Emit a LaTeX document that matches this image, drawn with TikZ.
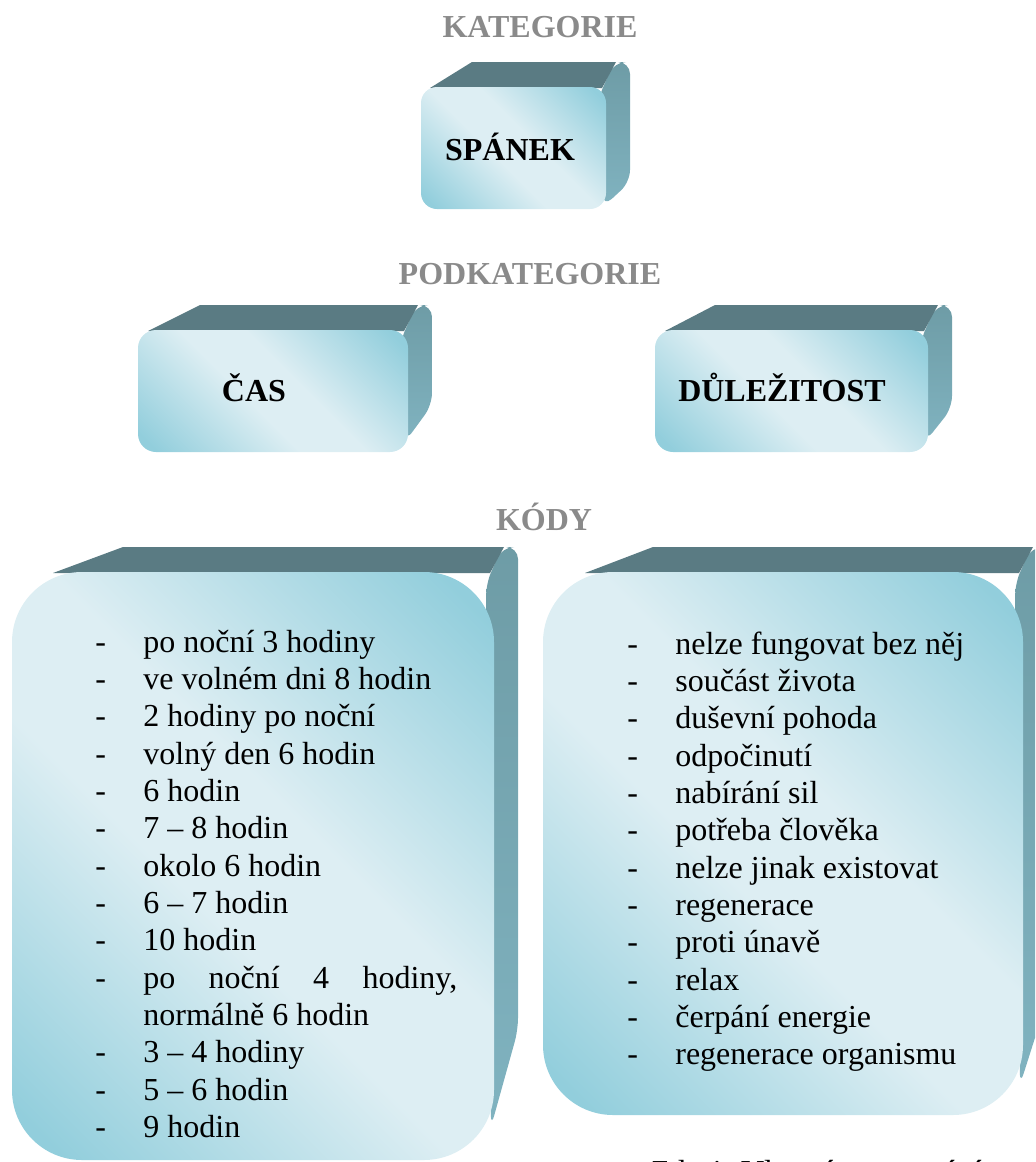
\documentclass[tikz,border=0pt]{standalone}
\usepackage{fontspec}
\setmainfont{Liberation Serif}
\usepackage{tikz}
\usetikzlibrary{positioning}

\definecolor{topteal}{HTML}{5A7B83}
\definecolor{sideteal}{HTML}{80B3C0}
\definecolor{sidetealdark}{HTML}{6E9CA6}
\definecolor{frontdark}{HTML}{92CEDC}
\definecolor{frontlight}{HTML}{DDEEF3}
\definecolor{headgray}{HTML}{8A8A8A}

\pgfdeclareverticalshading{frontshade}{100bp}{color(0bp)=(frontdark); color(18bp)=(frontdark); color(44bp)=(frontlight); color(56bp)=(frontlight); color(82bp)=(frontdark); color(100bp)=(frontdark)}

% #1 left, #2 top, #3 right, #4 bottom, #5 corner, #6/#7 top face start/back, #8/#9 side face ends
\newcommand{\cubebox}[9]{%
  \shade[sideface] (#3-8,#2+12) -- (#3+8,#2-25) -- (#3+24,#2-25) -- (#3+24,#8) -- (#3-3,#9) -- cycle;
  \fill[topface] (#1+#6,#2+1) -- (#1+#7,#2-25) -- (#3+10,#2-25) -- (#3-4,#2+1) -- cycle;
  \shade[frontface, rounded corners=#5] (#1,#2) rectangle (#3,#4);
}

\begin{document}
\begin{tikzpicture}[
    x=0.5pt, y=-0.5pt,
    sideface/.style={top color=sidetealdark, bottom color=sideteal, rounded corners=6pt},
    topface/.style={fill=topteal},
    frontface/.style={shading=frontshade, shading angle=-45},
    headlabel/.style={anchor=base, inner sep=0pt, text=headgray, font=\fontsize{16}{19}\selectfont\bfseries},
    boxlabel/.style={anchor=base, inner sep=0pt, font=\fontsize{16}{19}\selectfont\bfseries},
    codelist/.style={anchor=base west, inner sep=0pt, font=\fontsize{16}{18.67}\selectfont}
  ]
    \useasboundingbox (0,0) rectangle (1035,1162);
    \clip (0,0) rectangle (1035,1162);

    \cubebox{421}{87}{606}{209}{8pt}{9}{51}{182}{207}
    \cubebox{138}{330}{408}{452}{9pt}{10}{62}{405}{442}
    \cubebox{655}{330}{928}{452}{9pt}{10}{60}{408}{442}
    \cubebox{12}{572}{494}{1160}{35pt}{41}{111}{1030}{1127}
    \cubebox{543}{572}{1023}{1115}{35pt}{42}{110}{1000}{1085}

    \node[headlabel] (kategorie) at (540,37) {KATEGORIE};
    \node[boxlabel] (spanek) at (510,160) {SPÁNEK};
    \node[headlabel] (podkategorie) at (530,284) {PODKATEGORIE};
    \node[boxlabel] (cas) at (254,401) {ČAS};
    \node[boxlabel] (dulezitost) at (782,401) {DŮLEŽITOST};
    \node[headlabel] (kody) at (544,530) {KÓDY};

    \node[codelist] (caskody) at (95,652) {%
      \begin{tabular}[t]{@{}p{24pt}@{}l@{}}
        - & po noční 3 hodiny\\
        - & ve volném dni 8 hodin\\
        - & 2 hodiny po noční\\
        - & volný den 6 hodin\\
        - & 6 hodin\\
        - & 7 – 8 hodin\\
        - & okolo 6 hodin\\
        - & 6 – 7 hodin\\
        - & 10 hodin\\
        - & \makebox[157pt][s]{po noční 4 hodiny,}\\
          & normálně 6 hodin\\
        - & 3 – 4 hodiny\\
        - & 5 – 6 hodin\\
        - & 9 hodin
      \end{tabular}};
    \node[codelist] (dulezitostkody) at (627,654) {%
      \begin{tabular}[t]{@{}p{24pt}@{}l@{}}
        - & nelze fungovat bez něj\\
        - & součást života\\
        - & duševní pohoda\\
        - & odpočinutí\\
        - & nabírání sil\\
        - & potřeba člověka\\
        - & nelze jinak existovat\\
        - & regenerace\\
        - & proti únavě\\
        - & relax\\
        - & čerpání energie\\
        - & regenerace organismu
      \end{tabular}};

    \node[codelist] (zdroj) at (650,1182) {Zdroj: Vlastní zpracování};
  \end{tikzpicture}
\end{document}
